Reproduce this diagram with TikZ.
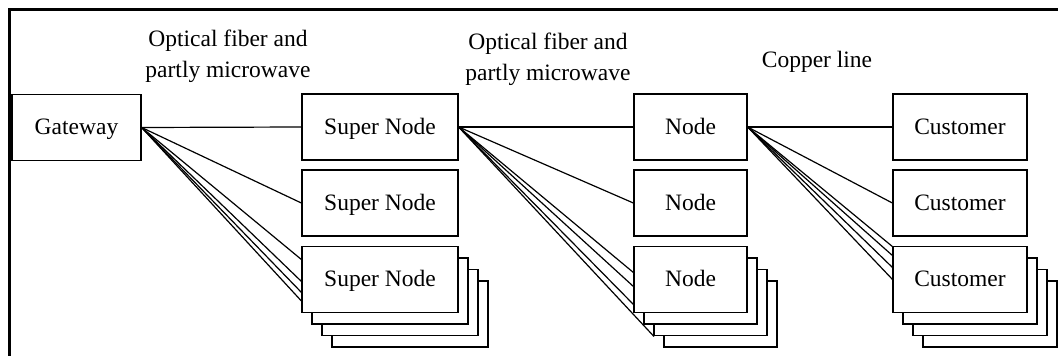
\documentclass[tikz,border=0pt]{standalone}
\usepackage{fontspec}
\setmainfont{Liberation Serif}
\usetikzlibrary{backgrounds}
\begin{document}
\begin{tikzpicture}[x=1pt,y=-1pt,
  box/.style={draw, fill=white, line width=1.3pt, inner sep=0pt, minimum height=66pt,
              text height=17pt, text depth=3pt,
              font=\fontsize{23.5}{28}\selectfont},
  gwbox/.style={box, minimum width=129pt},
  snbox/.style={box, minimum width=156pt},
  ndbox/.style={box, minimum width=113pt},
  cubox/.style={box, minimum width=134pt},
  link/.style={line width=1.2pt},
  frame/.style={line width=2.7pt},
  lbl/.style={align=center, inner sep=0pt, anchor=base, font=\fontsize{23.5}{31}\selectfont}]
\useasboundingbox (0,0) rectangle (1058,356);
% frame (only top and left edges are inside the picture)
\coordinate (fbl) at (9.7,356);
\coordinate (ftl) at (9.7,9.7);
\coordinate (ftr) at (1058,9.7);
\draw[frame] (fbl) -- (ftl) -- (ftr);
% labels (anchor = baseline of the last line)
\node[lbl] (l1) at (228,77.5) {Optical fiber and\\partly microwave};
\node[lbl] (l2) at (548,80) {Optical fiber and\\partly microwave};
\node[lbl] (l3) at (817,67) {Copper line};
% gateway
\node[gwbox] (gw) at (76.5,127.5) {Gateway};
% super nodes
\node[snbox] (sn1) at (380,127) {Super Node};
\node[snbox] (sn2) at (380,203) {Super Node};
\node[snbox] (sn3c) at (410,314) {};
\node[snbox] (sn3b) at (400,302.5) {};
\node[snbox] (sn3a) at (390,291) {};
\node[snbox] (sn3) at (380,279.5) {Super Node};
% nodes
\node[ndbox] (nd1) at (690.5,127) {Node};
\node[ndbox] (nd2) at (690.5,203) {Node};
\node[ndbox] (nd3c) at (720.5,314) {};
\node[ndbox] (nd3b) at (710.5,302.5) {};
\node[ndbox] (nd3a) at (700.5,291) {};
\node[ndbox] (nd3) at (690.5,279.5) {Node};
% customers
\node[cubox] (cu1) at (960,127) {Customer};
\node[cubox] (cu2) at (960,203) {Customer};
\node[cubox] (cu3c) at (990,314) {};
\node[cubox] (cu3b) at (980,302.5) {};
\node[cubox] (cu3a) at (970,291) {};
\node[cubox] (cu3) at (960,279.5) {Customer};
% ends of links into the stacks
\coordinate (g1) at (302,260);
\coordinate (g2) at (302,282);
\coordinate (g3) at (302,293);
\coordinate (g4) at (312,312.5);
\coordinate (s1) at (634,273);
\coordinate (s2) at (634,287);
\coordinate (s3) at (634,305);
\coordinate (s4) at (654,336.5);
\coordinate (n1) at (893,247);
\coordinate (n2) at (893,256);
\coordinate (n3) at (893,268);
\coordinate (n4) at (893,280);
\begin{scope}[on background layer]
\foreach \t in {sn1.west, sn2.west, g1, g2, g3, g4}
  \draw[link] (gw.east) -- (\t);
\foreach \t in {nd1.west, nd2.west, s1, s2, s3, s4}
  \draw[link] (sn1.east) -- (\t);
\foreach \t in {cu1.west, cu2.west, n1, n2, n3, n4}
  \draw[link] (nd1.east) -- (\t);
\end{scope}
\end{tikzpicture}
\end{document}
